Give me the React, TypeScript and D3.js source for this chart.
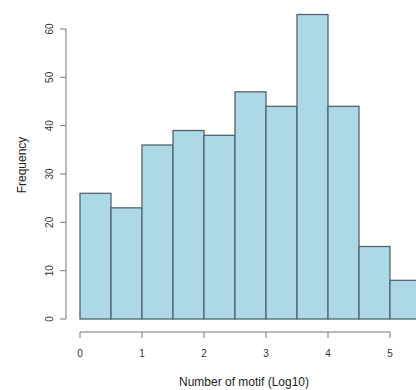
import React from "react";
import * as d3 from "d3";

const binStarts = [0, 0.5, 1, 1.5, 2, 2.5, 3, 3.5, 4, 4.5, 5];
const binWidth = 0.5;
const counts = [26, 23, 36, 39, 38, 47, 44, 63, 44, 15, 8];
const xTicks = [0, 1, 2, 3, 4, 5];
const yTicks = [0, 10, 20, 30, 40, 50, 60];

export default function App() {
  const W = 416, H = 390;
  const x = d3.scaleLinear().domain([0, 5]).range([80, 390]);
  const y = d3.scaleLinear().domain([0, 60]).range([319, 29]);
  const axisColor = "#777";
  const font = "'Liberation Sans', Arial, sans-serif";
  const axisX = 66;
  const axisY = 332;
  return (
    <svg width={W} height={H} style={{ position: "absolute", left: 0, top: 0, background: "#fff" }}>
      {binStarts.map((b, i) => (
        <rect
          key={i}
          x={x(b)}
          y={y(counts[i])}
          width={x(b + binWidth) - x(b)}
          height={y(0) - y(counts[i])}
          fill="#add8e6"
          stroke="#4f6672"
          strokeWidth={1.3}
        />
      ))}
      {/* y axis */}
      <line x1={axisX} x2={axisX} y1={y(0)} y2={y(60)} stroke={axisColor} strokeWidth={1} />
      {yTicks.map((t) => (
        <g key={t}>
          <line x1={axisX - 6} x2={axisX} y1={y(t)} y2={y(t)} stroke={axisColor} />
          <text
            transform={`translate(${axisX - 17},${y(t)}) rotate(-90)`}
            textAnchor="middle"
            dy="0.35em"
            fontSize={10}
            fontFamily={font}
            fill="#333"
          >
            {t}
          </text>
        </g>
      ))}
      {/* x axis */}
      <line x1={x(0)} x2={x(5)} y1={axisY} y2={axisY} stroke={axisColor} />
      {xTicks.map((t) => (
        <g key={t}>
          <line x1={x(t)} x2={x(t)} y1={axisY} y2={axisY + 6} stroke={axisColor} />
          <text x={x(t)} y={axisY + 25} textAnchor="middle" fontSize={10} fontFamily={font} fill="#333">
            {t}
          </text>
        </g>
      ))}
      <text x={244} y={386} textAnchor="middle" fontSize={12} fontFamily={font} fill="#222">
        Number of motif (Log10)
      </text>
      <text
        transform={`translate(22,165) rotate(-90)`}
        textAnchor="middle"
        dy="0.35em"
        fontSize={12}
        fontFamily={font}
        fill="#222"
      >
        Frequency
      </text>
    </svg>
  );
}
